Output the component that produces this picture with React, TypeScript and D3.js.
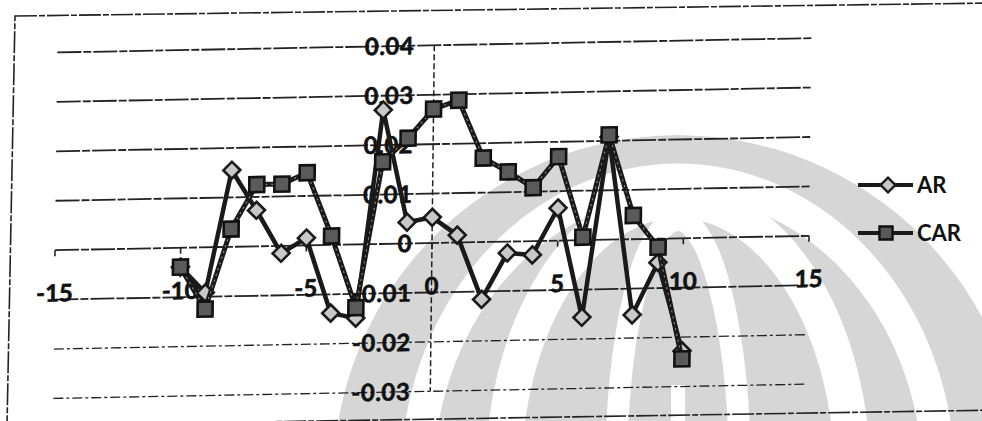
import React from "react";
import * as d3 from "d3";

const eventDays = [-10, -9, -8, -7, -6, -5, -4, -3, -2, -1, 0, 1, 2, 3, 4, 5, 6, 7, 8, 9, 10];
const arValues = [-0.0039, -0.0092, 0.0155, 0.0073, -0.0015, 0.0015, -0.0138, -0.0149, 0.0271, 0.0043, 0.0052, 0.0015, -0.0116, -0.0023, -0.0028, 0.0066, -0.0156, 0.0208, -0.0153, -0.0048, -0.0228];
const carValues = [-0.0039, -0.0125, 0.0036, 0.0125, 0.0125, 0.0147, 0.0018, -0.0128, 0.0166, 0.0213, 0.0271, 0.0288, 0.0170, 0.0141, 0.0108, 0.0170, 0.0006, 0.0212, 0.0048, -0.0017, -0.0244];
const xTicks = [-15, -10, -5, 0, 5, 10, 15];
const yTicks = [0.04, 0.03, 0.02, 0.01, 0, -0.01, -0.02, -0.03];
const seriesNames = ["AR", "CAR"];

const W = 982;
const H = 421;
const FONT = "Lato, 'Open Sans', sans-serif";

export default function App() {
  const x = d3.scaleLinear().domain([-15, 15]).range([55, 809]);
  const y = d3.scaleLinear().domain([-0.03, 0.04]).range([391.3, 45.3]);
  const kx = -0.0116;
  const ky = -0.019;
  const ox = x(0);
  const oy = y(0);
  const shear = `matrix(1,${ky},${kx},1,${-kx * oy},${-ky * ox})`;

  const line = d3
    .line<number>()
    .x((_, i) => x(eventDays[i]))
    .y((d) => y(d));

  const squarePath = d3.symbol(d3.symbolSquare, 225)() || "";
  const diamondPath = d3.symbol(d3.symbolSquare, 144)() || "";
  const legendSquare = d3.symbol(d3.symbolSquare, 170)() || "";
  const legendDiamond = d3.symbol(d3.symbolSquare, 110)() || "";

  const fmtY = (v: number) => (v === 0 ? "0" : v.toFixed(2));

  const wmColor = "#d6d6d6";
  const wmCx = 678;
  const wmCy = 480;

  return (
    <svg
      width={W}
      height={H}
      style={{ position: "absolute", left: 0, top: 0, background: "#fff" }}
      fontFamily={FONT}
    >
      <defs>
        <clipPath id="wmclip">
          <circle cx={wmCx} cy={wmCy} r={345} />
        </clipPath>
      </defs>
      {/* watermark */}
      <g clipPath="url(#wmclip)">
        <circle cx={wmCx} cy={wmCy} r={345} fill={wmColor} />
        <ellipse cx={wmCx} cy={wmCy} rx={261} ry={300} fill="none" stroke="#fff" strokeWidth={33} />
        <ellipse cx={wmCx} cy={wmCy} rx={175} ry={280} fill="none" stroke="#fff" strokeWidth={36} />
        <ellipse cx={wmCx} cy={wmCy} rx={62} ry={260} fill="none" stroke="#fff" strokeWidth={22} />
        <rect x={wmCx - 7} y={385} width={14} height={60} fill="#fff" />
      </g>

      {/* chart border */}
      <path d="M15,16 L995,3 L999,410 L7,426 Z" fill="none" stroke="#222" strokeWidth={1.6} strokeDasharray="22 2 6 2" />

      <g transform={shear}>
        {/* gridlines */}
        {yTicks.map((t) => (
          <line
            key={"g" + t}
            x1={x(-15)}
            x2={x(15)}
            y1={y(t)}
            y2={y(t)}
            stroke="#222"
            strokeWidth={t < -0.015 ? 1.3 : 1.8}
            strokeDasharray={t < -0.015 ? "10 3 3 3" : "24 2 8 2"}
          />
        ))}
        {/* x ticks */}
        {xTicks.map((t) => (
          <line key={"xt" + t} x1={x(t)} x2={x(t)} y1={y(0)} y2={y(0) + 6} stroke="#222" strokeWidth={1.6} />
        ))}
        {/* y axis */}
        <line x1={x(0)} x2={x(0)} y1={y(0.04)} y2={y(-0.03)} stroke="#222" strokeWidth={1.5} strokeDasharray="6 3" />

        {/* y labels */}
        {yTicks.map((t) => (
          <text
            key={"yl" + t}
            x={x(0) - 20}
            y={y(t)}
            dy="0.36em"
            textAnchor="end"
            fontSize={24}
            fontWeight="bold"
            fill="#111"
            stroke="#111"
            strokeWidth={0.6}
            letterSpacing={0.5}
          >
            {fmtY(t)}
          </text>
        ))}
        {/* x labels */}
        {xTicks.map((t) => (
          <text
            key={"xl" + t}
            x={x(t)}
            y={y(-0.01) + 2}
            textAnchor="middle"
            fontSize={24}
            fontWeight="bold"
            fill="#111"
            stroke="#111"
            strokeWidth={0.6}
          >
            {String(t)}
          </text>
        ))}

        {/* AR series */}
        <path d={line(arValues) || ""} fill="none" stroke="#1a1a1a" strokeWidth={4.5} strokeLinejoin="round" />
        {arValues.map((v, i) => (
          <path
            key={"ar" + i}
            d={diamondPath}
            transform={`translate(${x(eventDays[i])},${y(v)}) rotate(45)`}
            fill="#c8c8c8"
            stroke="#1a1a1a"
            strokeWidth={2.6}
          />
        ))}

        {/* CAR series */}
        <path d={line(carValues) || ""} fill="none" stroke="#1a1a1a" strokeWidth={5} strokeLinejoin="round" />
        <path d={line(carValues) || ""} fill="none" stroke="#9a9a9a" strokeWidth={1} strokeDasharray="2 4" />
        {carValues.map((v, i) => (
          <path
            key={"car" + i}
            d={squarePath}
            transform={`translate(${x(eventDays[i])},${y(v)})`}
            fill="#5a5a5a"
            stroke="#111"
            strokeWidth={2.6}
          />
        ))}
      </g>

      {/* legend */}
      {seriesNames.map((name, i) => {
        const ly = 185 + i * 48;
        return (
          <g key={"lg" + name}>
            <line x1={858} x2={913} y1={ly} y2={ly} stroke="#1a1a1a" strokeWidth={4} />
            {i === 0 ? (
              <path d={legendDiamond} transform={`translate(888,${ly}) rotate(45)`} fill="#c8c8c8" stroke="#1a1a1a" strokeWidth={2.4} />
            ) : (
              <path d={legendSquare} transform={`translate(886,${ly})`} fill="#5a5a5a" stroke="#111" strokeWidth={2.4} />
            )}
            <text x={917} y={ly} dy="0.36em" fontSize={22} fontWeight="bold" fill="#111">
              {name}
            </text>
          </g>
        );
      })}
    </svg>
  );
}
